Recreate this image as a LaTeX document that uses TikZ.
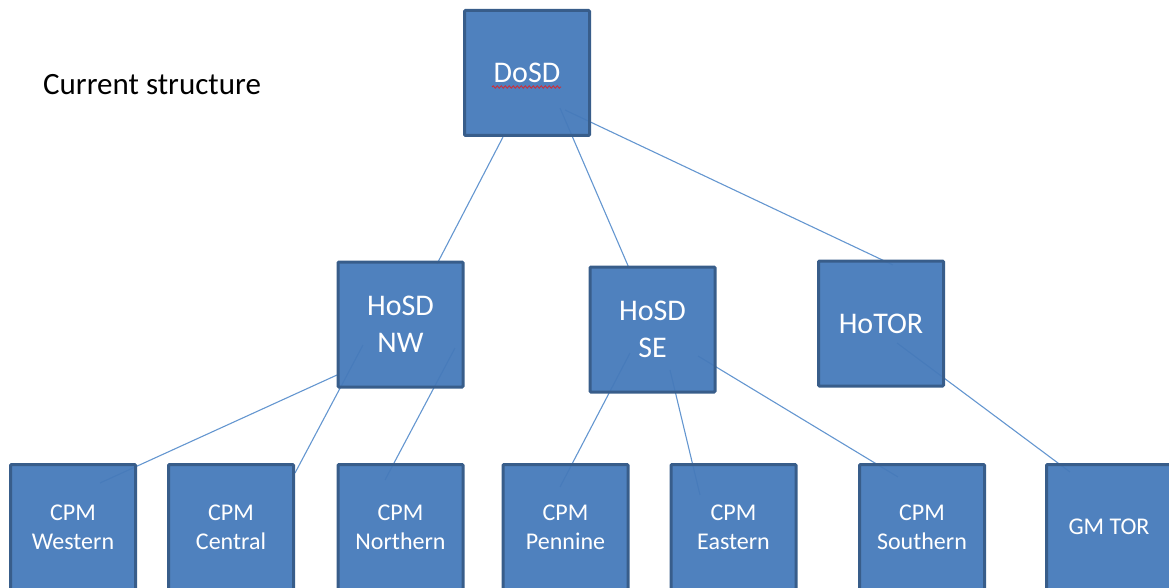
\documentclass[tikz,border=0pt]{standalone}
\usepackage{fontspec}
\setmainfont{Carlito}
\usepackage{xcolor}
\usepackage{tikz}
\usetikzlibrary{backgrounds,decorations.pathmorphing}

\definecolor{boxfill}{RGB}{70,122,186}
\definecolor{boxedge}{RGB}{56,93,138}
\definecolor{linkblue}{RGB}{100,150,208}
\definecolor{spellred}{RGB}{214,40,50}

\begin{document}
\begin{tikzpicture}[
        x=1pt, y=-1pt,
        box/.style={rectangle, draw=boxedge, line width=3pt, fill=boxfill,
            fill opacity=0.95, text opacity=1, text=white, rounded corners=1pt,
            minimum size=125pt, align=center, inner sep=0pt},
        head/.style={box, font=\fontsize{30}{37}\selectfont},
        leaf/.style={box, font=\fontsize{24}{29}\selectfont},
        link/.style={draw=linkblue, line width=1.1pt},
        squiggle/.style={draw=spellred, line width=0.8pt,
            decorate, decoration={snake, amplitude=1.2pt, segment length=4pt}}
    ]

    \useasboundingbox (0,0) rectangle (1169,588);

    % ---------- title ----------
    \node[anchor=base west, inner sep=0pt, font=\fontsize{31}{38}\selectfont] (title) at (43,95) {Current structure};

    % ---------- top ----------
    \node[head] (dosd) at (527,73) {DoSD};
    \draw[squiggle] ([shift={(-35,14)}]dosd.center) -- ([shift={(34,14)}]dosd.center);

    % ---------- heads ----------
    \node[head] (nw)  at (400.5,324.5) {HoSD\\NW};
    \node[head] (se)  at (652.5,329.5) {HoSD\\SE};
    \node[head] (tor) at (881,323.5)   {HoTOR};

    % ---------- bottom row ----------
    \foreach \n/\x/\t in {west/73/Western, cent/231/Central, north/400.5/Northern,
                          penn/565.5/Pennine, east/733.5/Eastern, south/922/Southern} {
        \node[leaf] (\n) at (\x,527) {CPM\\\t};
    }
    \node[leaf] (gmtor) at (1109,527) {GM TOR};

    % ---------- links ----------
    \begin{scope}[on background layer]
        \foreach \a/\ax/\ay/\b/\bx/\by in {
                dosd/-24/64/nw/36.5/-60.5,
                dosd/33/35/se/-23.5/-61.5,
                dosd/38/37/tor/12/-58.5,
                nw/-63.5/50.5/west/27/-44,
                nw/-37.5/20.5/cent/64/-54,
                nw/54.5/23.5/north/-15.5/-47,
                se/-22.5/23.5/penn/-5.5/-40,
                se/17.5/40.5/east/-33.5/-32,
                se/45.5/26.5/south/-24/-50,
                tor/16/19.5/gmtor/-39/-55} {
            \draw[link] ([shift={(\ax,\ay)}]\a.center) -- ([shift={(\bx,\by)}]\b.center);
        }
    \end{scope}

\end{tikzpicture}
\end{document}
